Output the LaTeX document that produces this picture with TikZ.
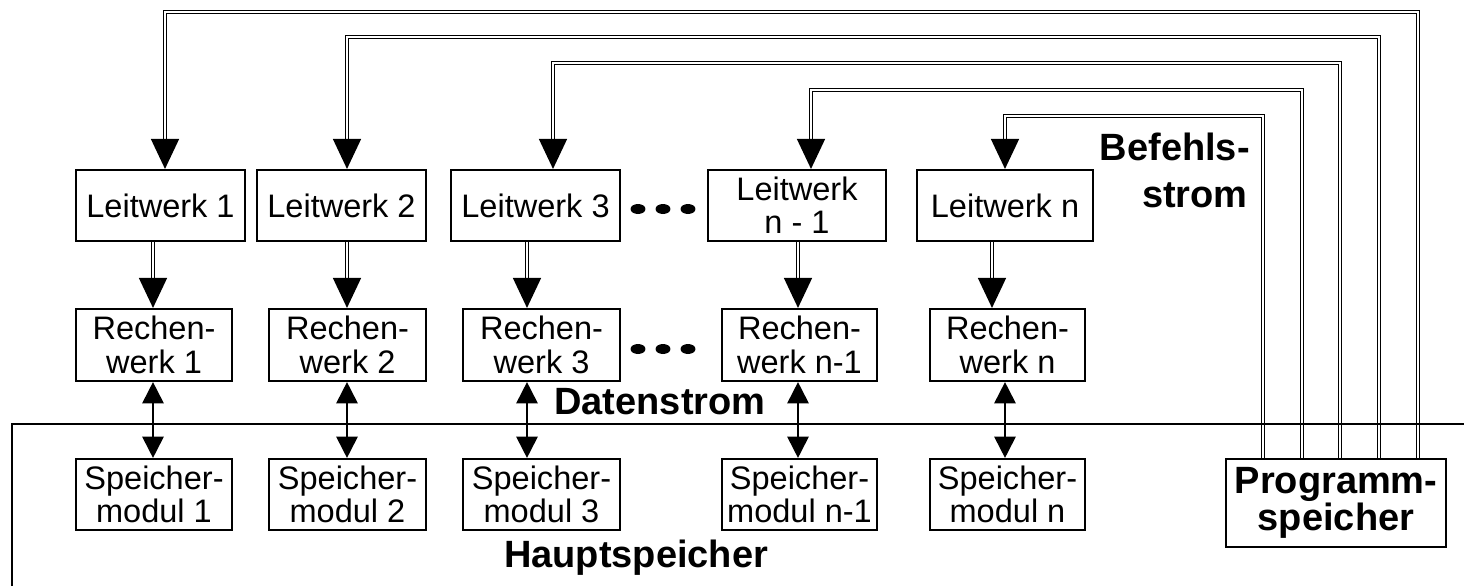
\documentclass[tikz,border=0pt]{standalone}
\usepackage{fontspec}
\newfontfamily\arial{Liberation Sans}
\usetikzlibrary{arrows.meta}
\tikzset{
  unit/.style={draw, line width=1.6pt, inner sep=0pt, align=center,
    font=\arial\fontsize{24.4}{25}\selectfont},
  lw/.style={unit, minimum width=#1, minimum height=53.25pt},
  rw/.style={unit, minimum width=#1, minimum height=54pt},
  sm/.style={unit, minimum width=#1, minimum height=53.25pt},
  lbl/.style={inner sep=0pt, font=\arial\bfseries\fontsize{28.5}{28}\selectfont},
  cmd/.style={line width=1.1pt, double, double distance=1.2pt,
    -{Triangle[length=22.5pt, width=21pt]}},
  dat/.style={line width=1.4pt, {Triangle[length=16pt, width=16pt]}-{Triangle[length=16pt, width=16pt]}},
}
\begin{document}
\begin{tikzpicture}[x=0.75pt, y=-0.75pt]
\useasboundingbox (0,0) rectangle (1464,586);

% control units
\node[lw=126.75pt] (L1) at (160.5,205.5) {Leitwerk 1};
\node[lw=126.75pt] (L2) at (341.5,205.5) {Leitwerk 2};
\node[lw=126.75pt] (L3) at (535.5,205.5) {Leitwerk 3};
\node[lw=133.5pt]  (L4) at (797,205.5)   {Leitwerk\\n - 1};
\node[lw=132pt]    (L5) at (1005,205.5)  {Leitwerk n};

% arithmetic units
\node[rw=117pt]    (R1) at (154,345)    {Rechen-\\werk 1};
\node[rw=117.75pt] (R2) at (347.5,345)  {Rechen-\\werk 2};
\node[rw=117.75pt] (R3) at (541.5,345)  {Rechen-\\werk 3};
\node[rw=116.25pt] (R4) at (799.5,345)  {Rechen-\\werk n-1};
\node[rw=116.25pt] (R5) at (1007.5,345) {Rechen-\\werk n};

% memory modules
\node[sm=117pt]    (S1) at (154,494.5)    {Speicher-\\modul 1};
\node[sm=117.75pt] (S2) at (347.5,494.5)  {Speicher-\\modul 2};
\node[sm=117.75pt] (S3) at (541.5,494.5)  {Speicher-\\modul 3};
\node[sm=116.25pt] (S4) at (799.5,494.5)  {Speicher-\\modul n-1};
\node[sm=116.25pt] (S5) at (1007.5,494.5) {Speicher-\\modul n};

% program memory
\node[unit, minimum width=165pt, minimum height=66pt,
  font=\arial\bfseries\fontsize{28.5}{28}\selectfont] (P) at (1336,503) {Programm-\\speicher};

% routing points of the instruction stream
\coordinate (r1) at (1418,12);  \coordinate (a1) at (165,12);
\coordinate (r2) at (1379,37);  \coordinate (a2) at (347,37);
\coordinate (r3) at (1340,63);  \coordinate (a3) at (553,63);
\coordinate (r4) at (1302,90);  \coordinate (a4) at (811,90);
\coordinate (r5) at (1263,116); \coordinate (a5) at (1005,116);

\draw[cmd] (P.north -| r1) |- (a1) -- (a1 |- L1.north);
\draw[cmd] (P.north -| r2) |- (a2) -- (a2 |- L2.north);
\draw[cmd] (P.north -| r3) |- (a3) -- (a3 |- L3.north);
\draw[cmd] (P.north -| r4) |- (a4) -- (a4 |- L4.north);
\draw[cmd] (P.north -| r5) |- (a5) -- (a5 |- L5.north);

% control unit to arithmetic unit
\coordinate (d1) at (153,0);
\coordinate (d2) at (347,0);
\coordinate (d3) at (527,0);
\coordinate (d4) at (798,0);
\coordinate (d5) at (992,0);
\coordinate (e5) at (1005,0);
\draw[cmd] (L1.south -| d1) -- (R1.north -| d1);
\draw[cmd] (L2.south -| d2) -- (R2.north -| d2);
\draw[cmd] (L3.south -| d3) -- (R3.north -| d3);
\draw[cmd] (L4.south -| d4) -- (R4.north -| d4);
\draw[cmd] (L5.south -| d5) -- (R5.north -| d5);

% data stream
\draw[dat] (R1.south -| d1) -- (S1.north -| d1);
\draw[dat] (R2.south -| d2) -- (S2.north -| d2);
\draw[dat] (R3.south -| d3) -- (S3.north -| d3);
\draw[dat] (R4.south -| d4) -- (S4.north -| d4);
\draw[dat] (R5.south -| e5) -- (S5.north -| e5);

% main memory frame
\draw[line width=1.5pt] (12,586) -- (12,424) -- (1464,424);

% ellipsis dots
\foreach \x in {638,663,688} {
  \fill (\x,209) ellipse [x radius=5.6pt, y radius=3.75pt];
  \fill (\x,349) ellipse [x radius=5.6pt, y radius=3.75pt];
}

% labels
\node[lbl, anchor=base] (ds) at (660,414) {Datenstrom};
\node[lbl, anchor=base] (hs) at (636,567) {Hauptspeicher};
\node[lbl, anchor=base east] (bs1) at (1250,160) {Befehls-};
\node[lbl, anchor=base east] (bs2) at (1248,207) {strom};
\end{tikzpicture}
\end{document}
